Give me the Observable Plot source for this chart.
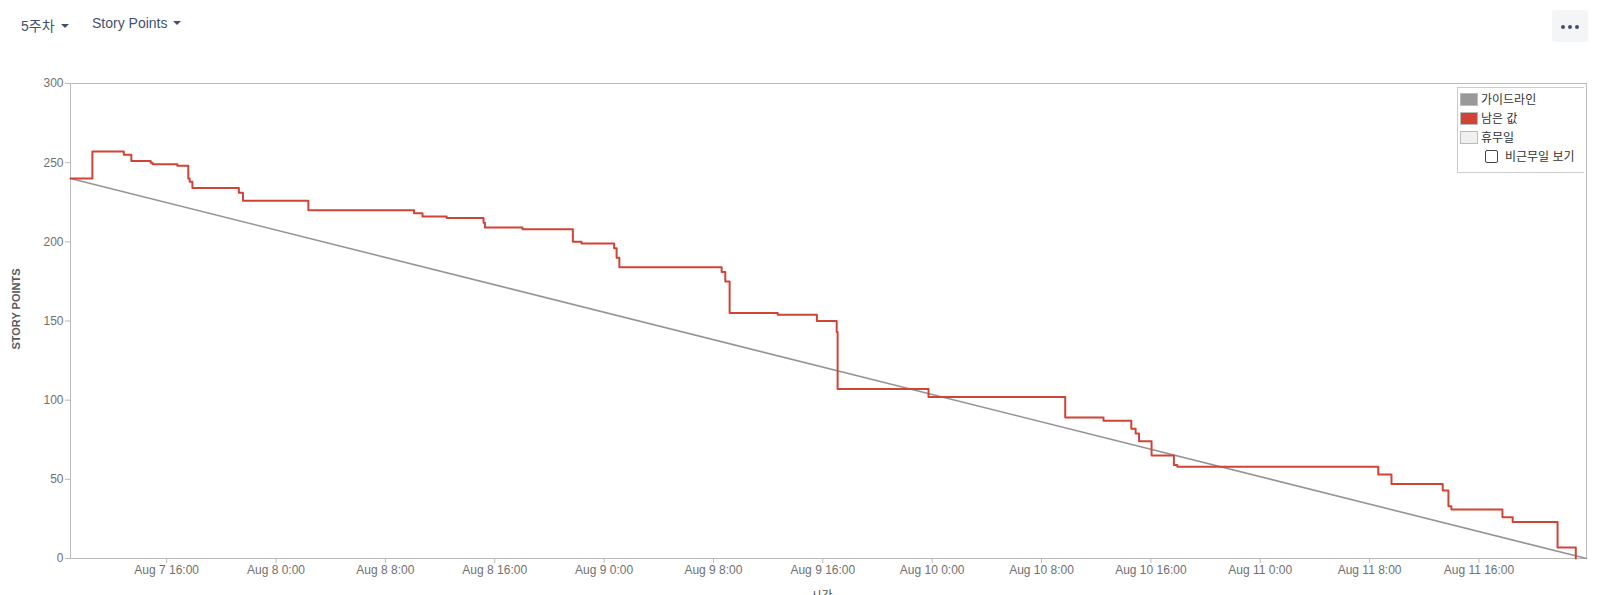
<!DOCTYPE html>
<html>
<head>
<meta charset="utf-8">
<script src="https://cdn.jsdelivr.net/npm/d3@7"></script>
<script src="https://cdn.jsdelivr.net/npm/@observablehq/plot@0.6"></script>
<style>
  html, body { margin: 0; padding: 0; background: #fff; overflow: hidden; }
  body { font-family: "Liberation Sans", "Noto Sans CJK KR", sans-serif; }
  #wrap { position: relative; width: 1605px; height: 595px; }
  #chart { position: absolute; left: 0; top: 0; }
  .hdr { position: absolute; top: 15px; font-size: 14px; color: #42526e; white-space: nowrap; }
  .caret { display: inline-block; width: 0; height: 0; border-left: 4px solid transparent; border-right: 4px solid transparent; border-top: 4px solid #42526e; vertical-align: middle; margin-left: 6px; margin-top: -2px; }
  #more { position: absolute; left: 1552px; top: 10px; width: 36px; height: 32px; background: #f4f5f7; border-radius: 3px; }
  #more span { position: absolute; top: 15px; width: 4px; height: 4px; border-radius: 2px; background: #42526e; }
  #legend { position: absolute; left: 1457px; top: 87px; width: 126px; height: 84px; background: #fff; border: 1px solid #ccc; border-right: none; font-size: 12px; color: #333; }
  .li { position: absolute; left: 2px; height: 14px; line-height: 14px; white-space: nowrap; }
  .sw { display: inline-block; width: 16px; height: 11px; border: 1px solid #bbb; vertical-align: -2px; margin-right: 3px; }
  .cb { display: inline-block; width: 11px; height: 11px; border: 1px solid #444; border-radius: 2px; vertical-align: -2px; margin-right: 7px; background: #fff; }
</style>
</head>
<body>
<div id="wrap">
  <div id="chart"></div>
  <div class="hdr" style="left:21px">5주차<span class="caret"></span></div>
  <div class="hdr" style="left:92px">Story Points<span class="caret"></span></div>
  <div id="more"><span style="left:9px"></span><span style="left:16px"></span><span style="left:23px"></span></div>
  <div id="legend"></div>
</div>
<script>
// ---- data ----
const remainingTimes = [
  "2023-08-07T08:58", "2023-08-07T10:34", "2023-08-07T12:52", "2023-08-07T13:25",
  "2023-08-07T14:50", "2023-08-07T14:58", "2023-08-07T16:47", "2023-08-07T17:35",
  "2023-08-07T17:41", "2023-08-07T17:53", "2023-08-07T21:17", "2023-08-07T21:35",
  "2023-08-08T02:22", "2023-08-08T10:06", "2023-08-08T10:43", "2023-08-08T12:29",
  "2023-08-08T15:11", "2023-08-08T15:17", "2023-08-08T18:02", "2023-08-08T21:43",
  "2023-08-08T22:21", "2023-08-09T00:44", "2023-08-09T00:55", "2023-08-09T01:07",
  "2023-08-09T08:36", "2023-08-09T08:52", "2023-08-09T09:11", "2023-08-09T12:42",
  "2023-08-09T15:34", "2023-08-09T17:01", "2023-08-09T17:05", "2023-08-09T23:44",
  "2023-08-10T09:44", "2023-08-10T12:32", "2023-08-10T14:34", "2023-08-10T14:53",
  "2023-08-10T15:08", "2023-08-10T16:03", "2023-08-10T17:41", "2023-08-10T17:56",
  "2023-08-11T08:38", "2023-08-11T09:36", "2023-08-11T13:21", "2023-08-11T13:46",
  "2023-08-11T13:59", "2023-08-11T17:43", "2023-08-11T18:28", "2023-08-11T21:45",
  "2023-08-11T23:05"
];
const remainingValues = [
  240, 257, 255, 251,
  250, 249, 248, 240,
  238, 234, 231, 226,
  220, 218, 216, 215,
  212, 209, 208, 200,
  199, 196, 190, 184,
  181, 175, 155, 154,
  150, 143, 107, 102,
  89, 87, 82, 79,
  74, 65, 59, 58,
  53, 47, 43, 33,
  31, 26, 23, 7,
  0
];
const guideTimes = ["2023-08-07T08:58", "2023-08-11T23:52"];
const guideValues = [240, 0];
const xDomain = ["2023-08-07T08:58", "2023-08-11T23:52"];
const xTicks = [
  "2023-08-07T16:00", "2023-08-08T00:00", "2023-08-08T08:00", "2023-08-08T16:00",
  "2023-08-09T00:00", "2023-08-09T08:00", "2023-08-09T16:00", "2023-08-10T00:00",
  "2023-08-10T08:00", "2023-08-10T16:00", "2023-08-11T00:00", "2023-08-11T08:00",
  "2023-08-11T16:00"
];
const yTicks = [0, 50, 100, 150, 200, 250, 300];
const yLabel = "STORY POINTS";
const xLabel = "시간";
const legendNames = ["가이드라인", "남은 값", "휴무일"];
const legendColors = ["#999999", "#d04437", "#f0f0f0"];
const checkboxLabel = "비근무일 보기";

// ---- build ----
const remaining = remainingTimes.map((t, i) => ({t: new Date(t), v: remainingValues[i]}));
const guide = guideTimes.map((t, i) => ({t: new Date(t), v: guideValues[i]}));
const fmt = d3.timeFormat("%b %-d %-H:%M");

const chart = Plot.plot({
  width: 1605,
  height: 595,
  marginLeft: 70,
  marginRight: 19,
  marginTop: 83,
  marginBottom: 37,
  style: {fontFamily: '"Liberation Sans", "Noto Sans CJK KR", sans-serif', fontSize: "12px", background: "transparent", overflow: "visible"},
  x: {type: "time", domain: xDomain.map(d => new Date(d))},
  y: {domain: [0, 300]},
  marks: [
    Plot.frame({stroke: "#bbb"}),
    Plot.axisY({ticks: yTicks, tickSize: 5, tickPadding: 2, stroke: "#bbb", fill: "#707070", label: null}),
    Plot.axisX({ticks: xTicks.map(d => new Date(d)), tickFormat: fmt, tickSize: 5, tickPadding: 2, stroke: "#bbb", fill: "#707070", label: null}),
    Plot.line(guide, {x: "t", y: "v", stroke: "#959595", strokeWidth: 1.6}),
    Plot.line(remaining, {x: "t", y: "v", curve: "step-after", stroke: "#d04437", strokeWidth: 2}),
    Plot.text([yLabel], {frameAnchor: "left", textAnchor: "middle", dx: -54, dy: -12, rotate: -90, fontWeight: "bold", fontSize: 11, fill: "#5a5a5a"}),
    Plot.text([xLabel], {frameAnchor: "bottom", lineAnchor: "top", dy: 33, dx: -7, fontSize: 12, fill: "#555"})
  ]
});
document.getElementById("chart").appendChild(chart);

// legend
const lg = document.getElementById("legend");
legendNames.forEach((n, i) => {
  const d = document.createElement("div");
  d.className = "li";
  d.style.top = (5 + i * 19) + "px";
  d.innerHTML = `<span class="sw" style="background:${legendColors[i]}"></span>${n}`;
  lg.appendChild(d);
});
const c = document.createElement("div");
c.className = "li";
c.style.top = (5 + 3 * 19) + "px";
c.style.left = "27px";
c.innerHTML = `<span class="cb"></span>${checkboxLabel}`;
lg.appendChild(c);
</script>
</body>
</html>
